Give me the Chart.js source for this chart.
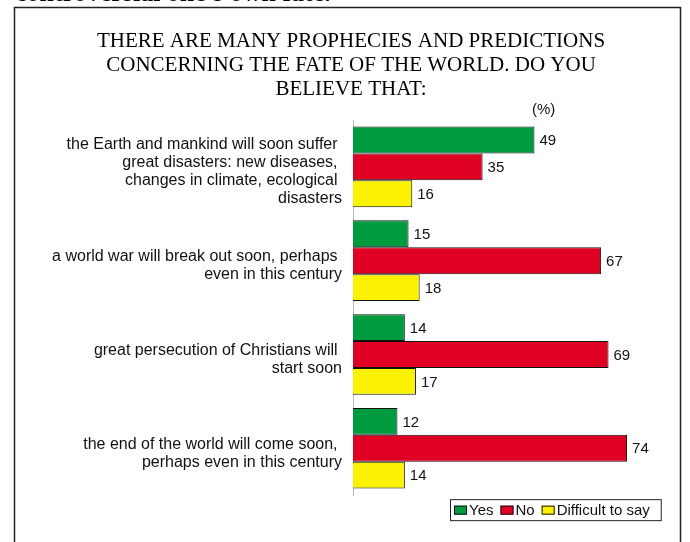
<!DOCTYPE html>
<html>
<head>
<meta charset="utf-8">
<script src="https://cdn.jsdelivr.net/npm/chart.js@4/dist/chart.umd.min.js"></script>
<style>
  html, body { margin: 0; padding: 0; background: #fff; }
  #wrap { position: relative; width: 690px; height: 542px; }
</style>
</head>
<body>
<div id="wrap"><canvas id="chart" width="690" height="542"></canvas></div>
<script>
const categories = [
  ['the Earth and mankind will soon suffer ', 'great disasters: new diseases, ', 'changes in climate, ecological ', 'disasters'],
  ['a world war will break out soon, perhaps ', 'even in this century'],
  ['great persecution of Christians will ', 'start soon'],
  ['the end of the world will come soon, ', 'perhaps even in this century']
];
const yesValues = [49, 15, 14, 12];
const noValues = [35, 67, 69, 74];
const difficultValues = [16, 18, 17, 14];
const seriesNames = ['Yes', 'No', 'Difficult to say'];
const titleLines = [
  'THERE ARE MANY PROPHECIES AND PREDICTIONS',
  'CONCERNING THE FATE OF THE WORLD. DO YOU',
  'BELIEVE THAT:'
];
const unitLabel = '(%)';
const clippedHeading = "controversial one's own fate.";

const colors = ['#009B3E', '#E00024', '#FAF200'];
const sans = 'Liberation Sans, Arial, sans-serif';

// frame, cut heading, (%) and the boxed legend
const extras = {
  id: 'extras',
  beforeDraw(chart) {
    const c = chart.ctx;
    c.save();
    c.fillStyle = '#000';
    c.font = 'bold 26px Liberation Serif, serif';
    c.textBaseline = 'alphabetic';
    c.fillText(clippedHeading, 15, 1);
    c.strokeStyle = '#222';
    c.lineWidth = 1.5;
    c.beginPath();
    c.moveTo(14.5, 542);
    c.lineTo(14.5, 7.5);
    c.lineTo(680.5, 7.5);
    c.lineTo(680.5, 542);
    c.stroke();
    c.restore();
  },
  afterDraw(chart) {
    const c = chart.ctx;
    const area = chart.chartArea;
    c.save();
    c.fillStyle = '#111';
    c.font = '15px ' + sans;
    c.textBaseline = 'middle';
    c.fillText(unitLabel, 532, 110);

    // legend
    let x = 454;
    const y = area.bottom + 15;
    const startX = x - 4;
    chart.data.datasets.forEach((ds, i) => {
      c.fillStyle = ds.backgroundColor;
      c.fillRect(x, y - 4.5, 13, 9);
      c.strokeStyle = '#111';
      c.lineWidth = 1;
      c.strokeRect(x + 0.5, y - 4, 12, 8);
      c.fillStyle = '#111';
      c.textAlign = 'left';
      c.fillText(ds.label, x + 15, y + 0.5);
      x += 15 + c.measureText(ds.label).width + (i < 2 ? 7 : 0);
    });
    c.strokeStyle = '#222';
    c.lineWidth = 1;
    c.strokeRect(startX + 0.5, y - 10.5, x - startX + 11, 21);
    c.restore();
  },
  afterDatasetsDraw(chart) {
    const c = chart.ctx;
    c.save();
    c.fillStyle = '#111';
    c.font = '15px ' + sans;
    c.textBaseline = 'middle';
    chart.data.datasets.forEach((ds, i) => {
      chart.getDatasetMeta(i).data.forEach((bar, j) => {
        c.fillText(String(ds.data[j]), bar.x + 5, bar.y + 1);
      });
    });
    c.restore();
  }
};

new Chart(document.getElementById('chart'), {
  type: 'bar',
  data: {
    labels: categories,
    datasets: [
      { label: seriesNames[0], data: yesValues, backgroundColor: colors[0] },
      { label: seriesNames[1], data: noValues, backgroundColor: colors[1] },
      { label: seriesNames[2], data: difficultValues, backgroundColor: colors[2] }
    ]
  },
  options: {
    indexAxis: 'y',
    responsive: false,
    animation: false,
    layout: { padding: { left: 12, right: 0, top: 0, bottom: 44 } },
    datasets: {
      bar: {
        barPercentage: 1,
        categoryPercentage: 0.86,
        borderColor: '#111',
        borderWidth: 1
      }
    },
    scales: {
      x: { display: false, min: 0, max: 91 },
      y: {
        afterFit(scale) { scale.width = 341; },
        grid: { display: false, drawTicks: false },
        border: { display: true, color: '#bbb', width: 1 },
        ticks: {
          color: '#111',
          padding: 11,
          labelOffset: 5,
          font: { family: sans, size: 16, lineHeight: 1.12 }
        }
      }
    },
    plugins: {
      legend: { display: false },
      tooltip: { enabled: false },
      title: {
        display: true,
        text: titleLines,
        color: '#000',
        font: { family: 'Liberation Serif, serif', size: 21, weight: 'normal', lineHeight: 1.143 },
        padding: { top: 29, bottom: 19 }
      }
    }
  },
  plugins: [extras]
});
</script>
</body>
</html>
